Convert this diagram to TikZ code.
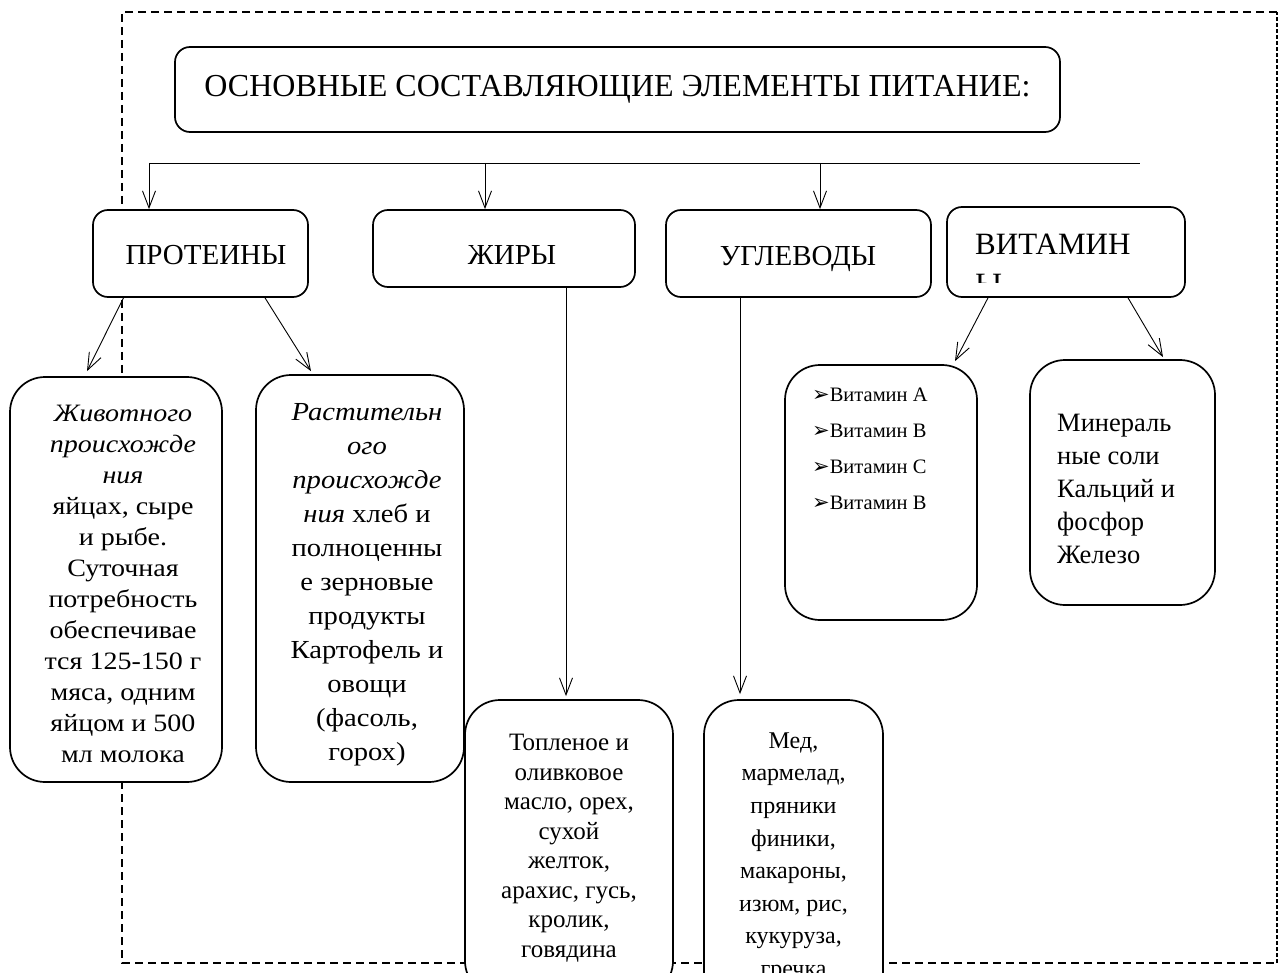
\documentclass[tikz,border=0pt]{standalone}
\usepackage{fontspec}
\setmainfont{Liberation Serif}
\newfontfamily\wideserif[FakeStretch=1.12]{Liberation Serif}
\newfontfamily\midserif[FakeStretch=1.1]{Liberation Serif}
\newfontfamily\symfont{DejaVu Sans}
\usetikzlibrary{arrows.meta}
\tikzset{
  rbox/.style={draw, line width=1.7pt, fill=white, align=center, inner sep=0pt, rounded corners=#1},
  rbox/.default=15pt,
  arr/.style={-{Straight Barb[length=17pt,width=13pt,line width=0.9pt]}, line width=0.9pt},
  conn/.style={line width=0.9pt},
  frame/.style={dash pattern=on 8pt off 5pt, line width=1.2pt},
  framedense/.style={dash pattern=on 4pt off 2pt, line width=1.4pt},
  ttl/.style={font=\fontsize{32}{36}\selectfont},
  big/.style={font=\fontsize{29}{34}\selectfont},
  plain/.style={inner sep=0pt, align=center},
}
\newcommand{\bul}{{\symfont\fontsize{21}{36}\selectfont ➢}}
\begin{document}
\begin{tikzpicture}[x=1pt,y=-1pt]
\useasboundingbox (0,0) rectangle (1284,973);
\clip (0,0) rectangle (1284,973);
% dashed frame
\coordinate (f1) at (1277,12);
\coordinate (f2) at (122,12);
\coordinate (f3) at (122,963);
\coordinate (f4) at (1277,963);
\draw[frame] (f1) -- (f2) -- (f3) -- (f4);
\draw[framedense] (f4) -- (f1);
% title
\node[rbox, minimum width=885pt, minimum height=85pt, ttl] (title) at (617.5,89.5) {ОСНОВНЫЕ СОСТАВЛЯЮЩИЕ ЭЛЕМЕНТЫ ПИТАНИЕ:};
% category boxes
\node[rbox, minimum width=215pt, minimum height=87pt] (prot) at (200.5,253.5) {};
\node[plain, big, anchor=base] (prottext) at (206,265) {ПРОТЕИНЫ};
\node[rbox, minimum width=262pt, minimum height=77pt] (fat) at (504,248.5) {};
\node[plain, big, anchor=base] (fattext) at (512,265) {ЖИРЫ};
\node[rbox, minimum width=265pt, minimum height=87pt] (carb) at (798.5,253.5) {};
\node[plain, big, anchor=base] (carbtext) at (798,266) {УГЛЕВОДЫ};
\node[rbox, minimum width=238pt, minimum height=90pt] (vit) at (1066,252) {};
\node[plain, anchor=base west, font=\fontsize{31}{36}\selectfont] (vittext) at (975,255) {ВИТАМИН};
\begin{scope}
\clip (947,207) rectangle (1185,283);
\node[plain, anchor=base west, font=\fontsize{31}{36}\selectfont] (vittextb) at (975,295) {Ы};
\end{scope}
% horizontal bus
\coordinate (hl) at (149,163);
\coordinate (hm) at (485,163);
\coordinate (hn) at (820,163);
\coordinate (hr) at (1140,163);
\draw[conn] (hl) -- (hr);
\draw[arr] (hl) -- (hl |- prot.north);
\draw[arr] (hm) -- (hm |- fat.north);
\draw[arr] (hn) -- (hn |- carb.north);
% detail boxes
\node[rbox=35pt, minimum width=212pt, minimum height=405pt] (anim) at (116,579.5) {};
\node[plain, font=\wideserif\fontsize{25}{31}\selectfont] (animtext) at (123,584)
 {\textit{Животного}\\\textit{происхожде}\\\textit{ния}\\яйцах, сыре\\и рыбе.\\Суточная\\потребность\\обеспечивае\\тся 125-150 г\\мяса, одним\\яйцом и 500\\мл молока};
\node[rbox=35pt, minimum width=208pt, minimum height=407pt] (plant) at (360,578.5) {};
\node[plain, font=\midserif\fontsize{26}{34}\selectfont] (planttext) at (367,585)
 {\textit{Растительн}\\\textit{ого}\\\textit{происхожде}\\\textit{ния} хлеб и\\полноценны\\е зерновые\\продукты\\Картофель и\\овощи\\(фасоль,\\горох)};
\node[rbox=35pt, minimum width=208pt, minimum height=296pt, font=\fontsize{25}{29.5}\selectfont] (fatf) at (569,848)
 {Топленое и\\оливковое\\масло, орех,\\сухой\\желток,\\арахис, гусь,\\кролик,\\говядина};
\node[rbox=35pt, minimum width=179pt, minimum height=314pt, font=\fontsize{24}{32.6}\selectfont] (carbf) at (793.5,857)
 {Мед,\\мармелад,\\пряники\\финики,\\макароны,\\изюм, рис,\\кукуруза,\\гречка};
\node[rbox=35pt, minimum width=192pt, minimum height=255pt] (vitl) at (881,492.5) {};
\node[plain, anchor=north west, align=left, font=\fontsize{20.5}{36}\selectfont] (vtext) at (812,388)
 {\bul Витамин А\\\bul Витамин В\\\bul Витамин С\\\bul Витамин В};
\node[rbox=35pt, minimum width=185pt, minimum height=245pt] (min) at (1122.5,482.5) {};
\node[plain, anchor=west, align=left, font=\fontsize{26.5}{33}\selectfont] (mintext) at (1057,489)
 {Минераль\\ные соли\\Кальций и\\фосфор\\Железо};
% connectors
\draw[arr] ([xshift=-77pt]prot.south) -- ([xshift=-29pt,yshift=5pt]anim.north);
\draw[arr] ([xshift=64.5pt]prot.south) -- ([xshift=-49pt,yshift=3pt]plant.north);
\draw[arr] ([xshift=62pt]fat.south) -- ([xshift=-3pt,yshift=3pt]fatf.north);
\draw[arr] ([xshift=-58.5pt]carb.south) -- ([xshift=-53.5pt,yshift=5pt]carbf.north);
\draw[arr] ([xshift=-78pt]vit.south) -- ([xshift=74pt,yshift=3pt]vitl.north);
\draw[arr] ([xshift=62pt]vit.south) -- ([xshift=40.5pt,yshift=2pt]min.north);
\end{tikzpicture}
\end{document}
